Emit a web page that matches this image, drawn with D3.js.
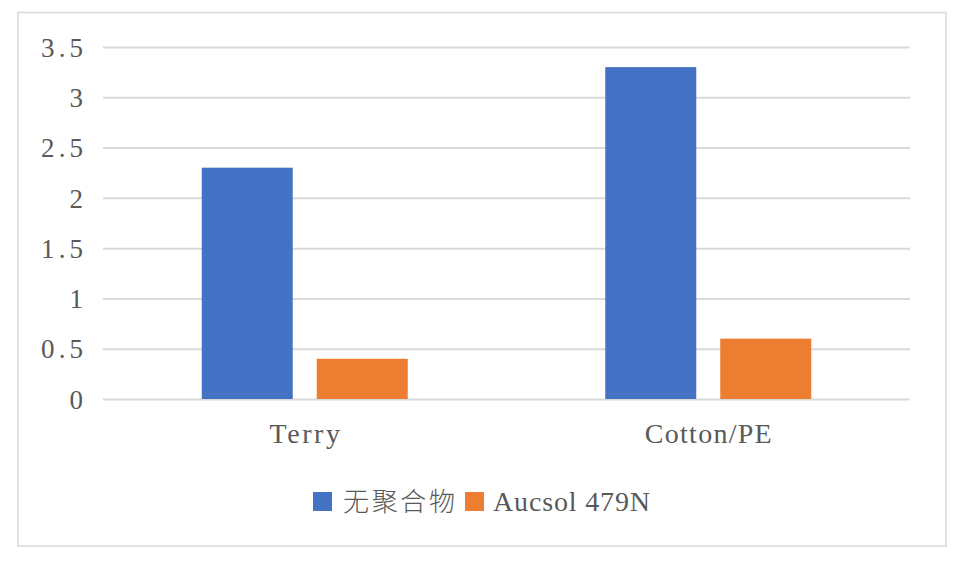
<!DOCTYPE html>
<html>
<head>
<meta charset="utf-8">
<script src="https://cdn.jsdelivr.net/npm/d3@7"></script>
<style>
  html, body { margin: 0; padding: 0; background: #fff; }
  svg { display: block; }
</style>
</head>
<body>
<svg id="chart" width="962" height="561"></svg>
<script>
const categories = ["Terry", "Cotton/PE"];
const seriesNames = ["无聚合物", "Aucsol 479N"];
const seriesNoPolymer = [2.3, 3.3];
const seriesAucsol = [0.4, 0.6];
const tickValues = [0, 0.5, 1, 1.5, 2, 2.5, 3, 3.5];
const tickLabels = ["0", "0.5", "1", "1.5", "2", "2.5", "3", "3.5"];
const colors = ["#4472C4", "#ED7D31"];

const svg = d3.select("#chart");
const W = 962, H = 561;
const textColor = "#595959";
const latinFont = "'Liberation Serif', 'DejaVu Serif', serif";

// outer border
svg.append("rect")
  .attr("x", 18).attr("y", 12.5)
  .attr("width", 928).attr("height", 533.5)
  .attr("fill", "#fff")
  .attr("stroke", "#d9d9d9").attr("stroke-width", 1.5);

const plot = { left: 103, right: 910, top: 47, bottom: 399 };

const y = d3.scaleLinear().domain([0, 3.5]).range([plot.bottom, plot.top]);
const x0 = d3.scaleBand().domain(categories).range([plot.left, plot.right]).padding(0);
const groupW = 206;
const x1 = d3.scaleBand().domain(seriesNames)
  .range([(x0.bandwidth() - groupW) / 2, (x0.bandwidth() + groupW) / 2])
  .paddingInner(24 / 115).paddingOuter(0);

// gridlines + y labels via axis
const yAxis = d3.axisLeft(y)
  .tickValues(tickValues)
  .tickSize(-(plot.right - plot.left))
  .tickFormat((d, i) => tickLabels[i]);
const ga = svg.append("g").attr("transform", `translate(${plot.left},0)`).call(yAxis);
ga.select(".domain").remove();
ga.selectAll(".tick line").attr("stroke", "#d9d9d9").attr("stroke-width", 2);
ga.selectAll(".tick text")
  .attr("x", -20)
  .attr("dy", "0.34em")
  .attr("fill", textColor)
  .style("font-family", latinFont)
  .style("font-size", "27px")
  .attr("textLength", (d, i) => tickLabels[i].length * 14)
  .attr("lengthAdjust", "spacing");

// bars
const data = categories.map((c, i) => ({ cat: c, vals: [seriesNoPolymer[i], seriesAucsol[i]] }));
const groups = svg.append("g").selectAll("g").data(data).join("g")
  .attr("transform", d => `translate(${x0(d.cat)},0)`);
groups.selectAll("rect")
  .data(d => d.vals.map((v, j) => ({ s: seriesNames[j], v, j })))
  .join("rect")
  .attr("x", d => x1(d.s))
  .attr("width", x1.bandwidth())
  .attr("y", d => y(d.v))
  .attr("height", d => y(0) - y(d.v))
  .attr("fill", d => colors[d.j]);

// category labels
svg.append("g").selectAll("text").data(categories).join("text")
  .attr("x", d => x0(d) + x0.bandwidth() / 2)
  .attr("y", 443)
  .attr("text-anchor", "middle")
  .attr("fill", textColor)
  .style("font-family", latinFont)
  .style("font-size", "28px")
  .attr("textLength", d => d.length * 14.1)
  .attr("lengthAdjust", "spacing")
  .text(d => d);

// legend
const legend = svg.append("g");
const legendItems = [
  { name: seriesNames[0], sx: 313, tx: 343, tw: 112, font: "'Noto Sans CJK SC', sans-serif", fs: 26 },
  { name: seriesNames[1], sx: 465, tx: 493, tw: 157, font: latinFont, fs: 28 }
];
legendItems.forEach((it, i) => {
  legend.append("rect")
    .attr("x", it.sx).attr("y", 492)
    .attr("width", 19).attr("height", 19)
    .attr("fill", colors[i]);
  legend.append("text")
    .attr("x", it.tx).attr("y", 511)
    .attr("fill", textColor)
    .style("font-family", it.font)
    .style("font-size", it.fs + "px")
    .style("font-weight", i === 0 ? 300 : 400)
    .attr("textLength", it.tw)
    .attr("lengthAdjust", "spacing")
    .text(it.name);
});
</script>
</body>
</html>
